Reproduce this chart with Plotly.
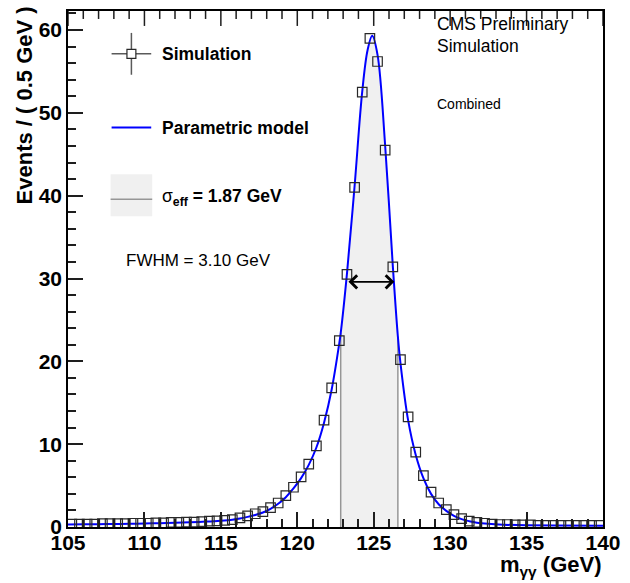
import plotly.graph_objects as go

# ---------------- data ----------------
sim_x = [105.25 + 0.5 * i for i in range(70)]
sim_y = [0.35, 0.35, 0.35, 0.35, 0.4, 0.4, 0.4, 0.4, 0.45, 0.45,
         0.45, 0.5, 0.5, 0.55, 0.55, 0.6, 0.6, 0.65, 0.7, 0.75,
         0.8, 0.9, 1.1, 1.35, 1.6, 1.85, 2.35, 2.9, 3.8, 4.8,
         6.05, 7.6, 9.8, 12.9, 16.8, 22.5, 30.5, 41.0, 52.5, 59.0,
         56.2, 45.5, 31.4, 20.2, 13.3, 9.05, 6.2, 4.2, 2.9, 2.1,
         1.5, 1.0, 0.7, 0.55, 0.45, 0.35, 0.3, 0.3, 0.25, 0.25,
         0.25, 0.2, 0.2, 0.2, 0.2, 0.2, 0.2, 0.2, 0.2, 0.2]

model_x = [105, 106, 107, 108, 109, 110, 111, 112, 113, 114, 115,
           115.75, 116.25, 116.75, 117.25, 117.75, 118.25, 118.75, 119.25, 119.75,
           120.25, 120.75, 121.25, 121.75, 122.25, 122.75, 122.84,
           123.25, 123.75, 124.25, 124.6, 124.9, 125.25, 125.75, 126.25, 126.58,
           126.75, 127.25, 127.75, 128.25, 128.75, 129.25, 129.75, 130.25, 130.75,
           131.25, 131.75, 132.5, 133.5, 135, 137, 140]
model_y = [0.3, 0.32, 0.34, 0.36, 0.39, 0.42, 0.46, 0.51, 0.57, 0.65, 0.76,
           0.88, 1.02, 1.22, 1.45, 1.75, 2.2, 2.8, 3.6, 4.65,
           5.9, 7.5, 9.6, 12.6, 16.6, 22.2, 23.4,
           30.6, 41.2, 52.6, 57.6, 59.3, 57.0, 46.0, 31.5, 23.0,
           19.8, 12.9, 8.7, 5.9, 4.0, 2.75, 1.95, 1.35, 0.95,
           0.7, 0.52, 0.38, 0.28, 0.2, 0.17, 0.15]

sigma_eff_range = [122.84, 126.58]
fwhm_range = [123.25, 126.35]
half_max = 29.6

x_range = [105, 140]
y_range = [0, 62.3]
x_ticks = [105, 110, 115, 120, 125, 130, 135, 140]
x_minor_ticks = list(range(105, 141))
y_ticks = [0, 10, 20, 30, 40, 50, 60]

# ---------------- figure geometry ----------------
W, H = 630, 583
L, R, T, B = 68, 608, 9, 527


def px(x):
    return (x - L) / (R - L)


def py(y):
    return (B - y) / (B - T)


FONT = "Liberation Sans, Arial, Helvetica, sans-serif"
TICK_COLOR = "rgb(30,30,30)"

fig = go.Figure()

# sigma_eff shaded band under the model
lo, hi = sigma_eff_range
band_x = [x for x in model_x if lo <= x <= hi]
band_y = [model_y[model_x.index(x)] for x in band_x]
fig.add_trace(go.Scatter(x=band_x, y=band_y, mode="lines", fill="tozeroy",
                         fillcolor="rgb(240,240,240)",
                         line=dict(width=0, shape="spline"),
                         hoverinfo="skip", showlegend=False))
for edge in sigma_eff_range:
    fig.add_trace(go.Scatter(x=[edge, edge], y=[0, model_y[model_x.index(edge)]],
                             mode="lines", line=dict(color="rgb(150,150,150)", width=1.5),
                             hoverinfo="skip", showlegend=False))

# model curve
fig.add_trace(go.Scatter(x=model_x, y=model_y, mode="lines",
                         line=dict(color="#0000ff", width=2, shape="spline"),
                         showlegend=False))

# simulation points
fig.add_trace(go.Scatter(x=sim_x, y=sim_y, mode="markers",
                         marker=dict(symbol="square-open", size=9.5,
                                     color="rgb(40,40,40)", line=dict(width=1.2)),
                         showlegend=False))

# FWHM arrow
fig.add_annotation(x=fwhm_range[1], y=half_max, ax=fwhm_range[0], ay=half_max,
                   xref="x", yref="y", axref="x", ayref="y", text="",
                   showarrow=True, arrowhead=4, startarrowhead=4,
                   arrowside="end+start", arrowsize=1.6, startarrowsize=1.6,
                   arrowwidth=1.6, arrowcolor="black")

shapes = []
annotations = []

# top-edge ticks (mirror of the x axis, pointing inward)
for v in x_minor_ticks:
    tl = 15 if v in x_ticks else 8
    shapes.append(dict(type="line", xref="x", yref="paper",
                       x0=v, x1=v, y0=1.0, y1=1.0 - tl / (B - T),
                       line=dict(color=TICK_COLOR, width=1.5)))

# legend: Simulation
shapes.append(dict(type="line", xref="paper", yref="paper",
                   x0=px(112), x1=px(152), y0=py(52), y1=py(52),
                   line=dict(color="rgb(90,90,90)", width=1.5)))
shapes.append(dict(type="line", xref="paper", yref="paper",
                   x0=px(132), x1=px(132), y0=py(31), y1=py(73),
                   line=dict(color="rgb(90,90,90)", width=1.5)))
shapes.append(dict(type="rect", xref="paper", yref="paper",
                   x0=px(127.5), x1=px(136.5), y0=py(47.5), y1=py(56.5),
                   fillcolor="white", line=dict(color="rgb(40,40,40)", width=1.2)))
# legend: Parametric model
shapes.append(dict(type="line", xref="paper", yref="paper",
                   x0=px(112), x1=px(152), y0=py(126), y1=py(126),
                   line=dict(color="#0000ff", width=2)))
# legend: sigma_eff
shapes.append(dict(type="rect", xref="paper", yref="paper",
                   x0=px(111), x1=px(153), y0=py(173), y1=py(215),
                   fillcolor="rgb(240,240,240)", line=dict(width=0)))
shapes.append(dict(type="line", xref="paper", yref="paper",
                   x0=px(111), x1=px(153), y0=py(198), y1=py(198),
                   line=dict(color="rgb(150,150,150)", width=1.5)))

legend_font = dict(family=FONT, size=17.5, color="black")
annotations.append(dict(text="<b>Simulation</b>", x=px(161), y=py(52),
                        xanchor="left", yanchor="middle", font=legend_font))
annotations.append(dict(text="<b>Parametric model</b>", x=px(161), y=py(126),
                        xanchor="left", yanchor="middle", font=legend_font))
annotations.append(dict(text="σ<sub><b>eff</b></sub><b> = 1.87 GeV</b>", x=px(161), y=py(196),
                        xanchor="left", yanchor="middle", font=legend_font))
annotations.append(dict(text="FWHM = 3.10 GeV", x=px(125), y=py(259),
                        xanchor="left", yanchor="middle",
                        font=dict(family=FONT, size=17, color="black")))

# top-right labels
annotations.append(dict(text="CMS Preliminary", x=px(438), y=py(22),
                        xanchor="left", yanchor="middle",
                        font=dict(family=FONT, size=17.5, color="black")))
annotations.append(dict(text="Simulation", x=px(438), y=py(44),
                        xanchor="left", yanchor="middle",
                        font=dict(family=FONT, size=17.5, color="black")))
annotations.append(dict(text="Combined", x=px(438), y=py(102),
                        xanchor="left", yanchor="middle",
                        font=dict(family=FONT, size=14, color="black")))

# axis titles
annotations.append(dict(text="<b>Events / ( 0.5 GeV )</b>", x=px(24), y=py(2),
                        xanchor="center", yanchor="top", textangle=-90,
                        font=dict(family=FONT, size=22, color="black")))
annotations.append(dict(text="<b>m<sub>γγ</sub> (GeV)</b>", x=1.0, y=py(566),
                        xanchor="right", yanchor="middle",
                        font=dict(family=FONT, size=22, color="black")))

for a in annotations:
    a.setdefault("xref", "paper")
    a.setdefault("yref", "paper")
    a["showarrow"] = False
    fig.add_annotation(**a)

fig.update_layout(
    width=W, height=H,
    margin=dict(l=L, r=W - R, t=T, b=H - B, pad=0),
    paper_bgcolor="white", plot_bgcolor="white",
    shapes=shapes,
    showlegend=False,
    font=dict(family=FONT, color="black"),
)

tick_common = dict(ticks="inside", ticklen=15, tickwidth=1.5, tickcolor=TICK_COLOR,
                   showgrid=False, zeroline=False)
minor_common = dict(ticks="inside", ticklen=8, tickwidth=1.5, tickcolor=TICK_COLOR)

fig.update_layout(
    xaxis=dict(range=x_range, tickvals=x_ticks, ticktext=[str(v) for v in x_ticks],
               minor=dict(dtick=1, **minor_common),
               showline=True, linecolor="black", linewidth=1.5, mirror=True,
               ticklabelstandoff=-4,
               tickfont=dict(family=FONT, size=21, color="black", weight="bold"),
               **tick_common),
    yaxis=dict(range=y_range, tickvals=y_ticks, ticktext=[str(v) for v in y_ticks],
               minor=dict(dtick=2, **minor_common),
               showline=True, linecolor="black", linewidth=1.5, mirror=True,
               tickfont=dict(family=FONT, size=21, color="black", weight="bold"),
               **tick_common),
)

fig.write_html("out.html")
